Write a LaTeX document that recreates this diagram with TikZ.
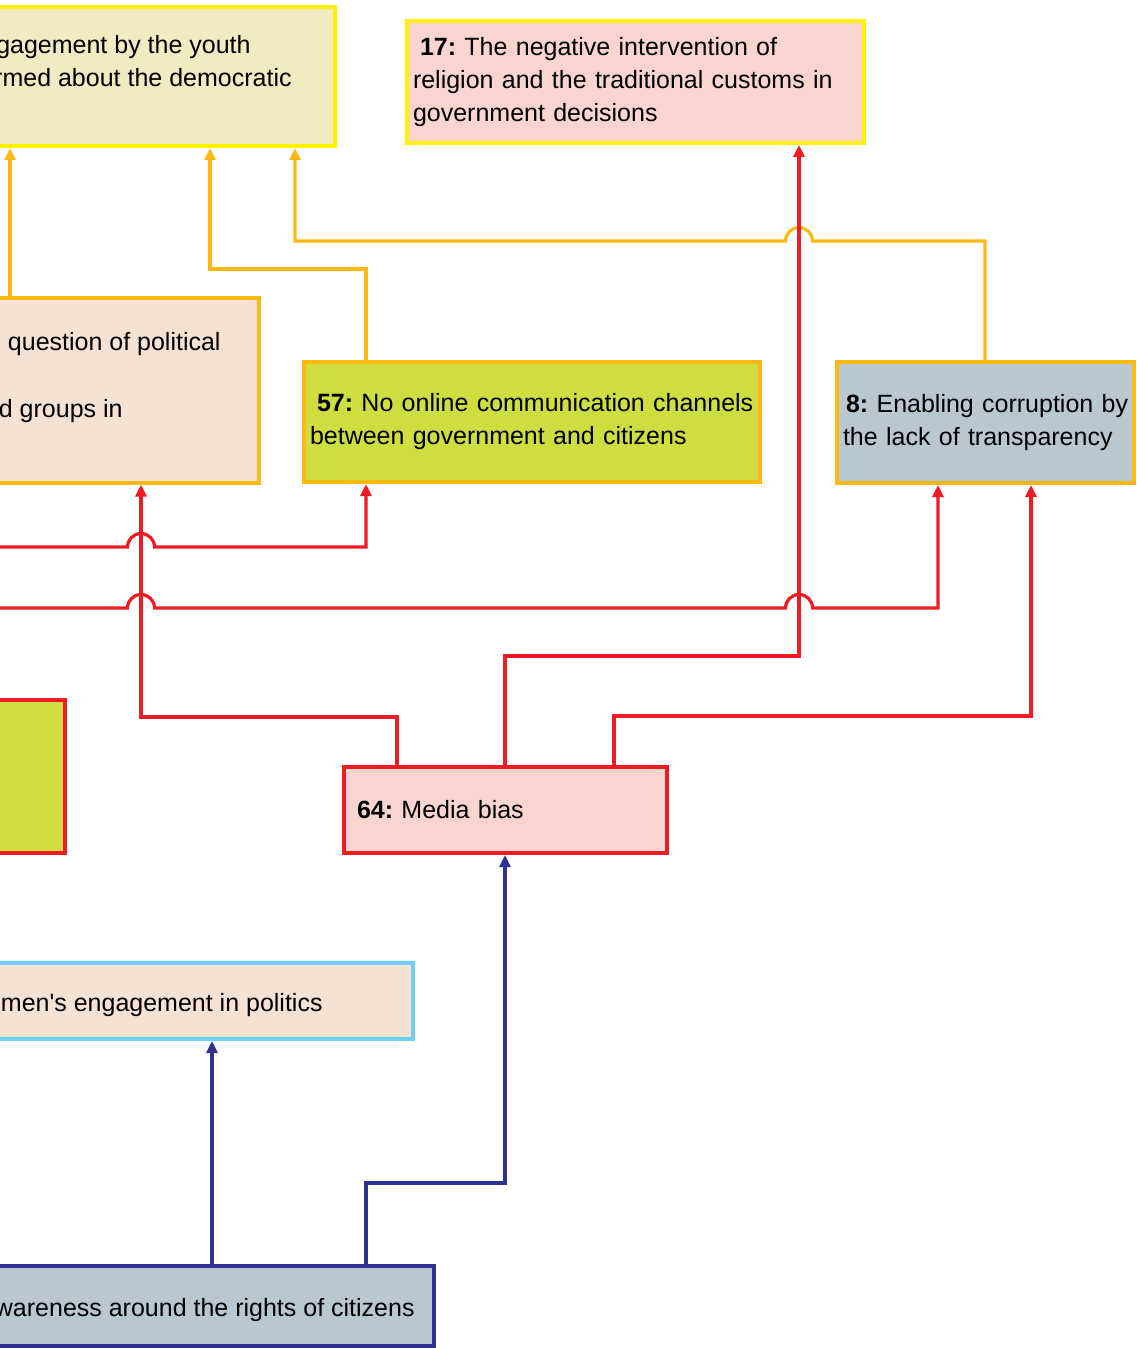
\documentclass[tikz,border=0pt]{standalone}
\usepackage{fontspec}
\setmainfont{Liberation Sans}
\usetikzlibrary{arrows.meta}
\frenchspacing
\hyphenpenalty=10000
\exhyphenpenalty=10000
\definecolor{gold}{HTML}{FDB913}
\definecolor{lemon}{HTML}{FFF200}
\definecolor{redline}{HTML}{ED1C24}
\definecolor{navy}{HTML}{2E3192}
\definecolor{sky}{HTML}{6DCFF6}
\definecolor{cream}{HTML}{F2EAC1}
\definecolor{blush}{HTML}{FAD5D0}
\definecolor{peach}{HTML}{F6E2D3}
\definecolor{lime}{HTML}{D0DD40}
\definecolor{slate}{HTML}{B9C8CF}

\begin{document}
\begin{tikzpicture}[
  x=0.5pt, y=-0.5pt,
  every node/.style={font=\fontsize{12.5pt}{16.5pt}\selectfont, text=black},
  box/.style={draw=#1, line width=2pt, inner xsep=3pt, inner ysep=0pt, outer sep=0pt, align=left},
  cut/.style={inner sep=0pt},
  link/.style={draw=#1, line width=1.6pt, -{Triangle[width=5.5pt,length=6pt]}, shorten >=1pt, shorten <=1pt},
]
\useasboundingbox (0,0) rectangle (1136,1348);
\clip (0,0) rectangle (1136,1348);

\node[box=lemon, fill=cream, minimum width=200pt, minimum height=69.25pt, anchor=north east] (youth) at (335,7.5) {};
\node[cut, anchor=base east] (youth1) at (251,54) {gagement by the youth};
\node[cut, anchor=base east] (youth2) at (292,87) {rmed about the democratic};

\node[box=lemon, fill=blush, text width=222.5pt, minimum height=60.75pt, anchor=north west] (n17) at (407,21.5)
  {\hspace*{.28em}\textbf{17:} The negative intervention of\\religion and the traditional customs in\\government decisions};

\node[box=gold, fill=peach, minimum width=200pt, minimum height=92.25pt, anchor=north east] (groups) at (259,298) {};
\node[cut, anchor=base east] (groups1) at (221,350) {question of political};
\node[cut, anchor=base east] (groups2) at (123,417) {d groups in};

\node[box=gold, fill=lime, text width=222pt, minimum height=60.25pt, anchor=north west] (n57) at (304,361.5)
  {\hspace*{.28em}\textbf{57:} No online communication channels\\between government and citizens};

\node[box=gold, fill=slate, text width=142.5pt, minimum height=60.5pt, anchor=north west] (n8) at (837,362)
  {\mbox{\hspace*{.12em}\textbf{8:} Enabling corruption by}\\the lack of transparency};

\node[box=redline, fill=lime, minimum width=100pt, minimum height=76.5pt, anchor=north east] (lime) at (65,700) {};

\node[box=redline, fill=blush, text width=155.5pt, minimum height=43pt, anchor=north west] (n64) at (344,767)
  {\hspace*{.28em}\textbf{64:} Media bias};

\node[box=sky, fill=peach, minimum width=250pt, minimum height=38pt, anchor=north east] (women) at (413,963) {};
\node[cut, anchor=base east] (women1) at (323,1011) {men\textquotesingle s engagement in politics};

\node[box=navy, fill=slate, minimum width=250pt, minimum height=40pt, anchor=north east] (rights) at (434,1266) {};
\node[cut, anchor=base east] (rights1) at (415,1316) {wareness around the rights of citizens};

\coordinate (w547) at (-10,547);
\coordinate (w608) at (-10,608);

\draw[link=gold] (groups.north -| 10,0) -- (youth.south -| 10,0);
\draw[link=gold] (n57.north -| 366,0) |- (210,269) -- (youth.south -| 210,0);
\draw[link=gold] (n8.north -| 985,0) |- (812.5,241) arc[start angle=0, end angle=180, radius=6.75pt]
  -- (295,241) -- (youth.south -| 295,0);

\draw[link=redline] (n64.north -| 505,0) |- (799,656) -- (n17.south -| 799,0);
\draw[link=redline] (n64.north -| 397,0) |- (141,717) -- (groups.south -| 141,0);
\draw[link=redline] (n64.north -| 614,0) |- (1031,716) -- (n8.south -| 1031,0);
\draw[link=redline] (w547) -- (127.5,547) arc[start angle=180, end angle=0, radius=6.75pt]
  -- (366,547) -- (n57.south -| 366,0);
\draw[link=redline] (w608) -- (127.5,608) arc[start angle=180, end angle=0, radius=6.75pt]
  -- (785.5,608) arc[start angle=180, end angle=0, radius=6.75pt]
  -- (938,608) -- (n8.south -| 938,0);

\draw[link=navy] (rights.north -| 212,0) -- (women.south -| 212,0);
\draw[link=navy] (rights.north -| 366,0) |- (505,1183) -- (n64.south -| 505,0);
\end{tikzpicture}
\end{document}
